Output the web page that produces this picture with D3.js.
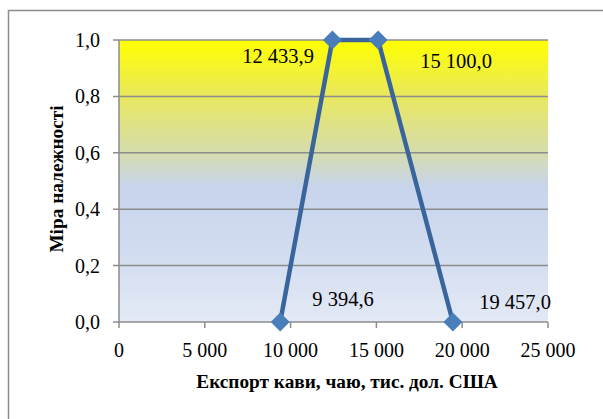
<!DOCTYPE html>
<html><head><meta charset="utf-8">
<script src="https://cdn.jsdelivr.net/npm/d3@7"></script>
</head><body style="margin:0;background:#fff">
<script>
const xValues = [9394.6, 12433.9, 15100.0, 19457.0];
const yValues = [0, 1, 1, 0];
const pointLabels = ["9 394,6", "12 433,9", "15 100,0", "19 457,0"];
const xTicks = [0, 5000, 10000, 15000, 20000, 25000];
const yTicks = [0, 0.2, 0.4, 0.6, 0.8, 1.0];
const xTitle = "Експорт кави, чаю, тис. дол. США";
const yTitle = "Міра належності";

const W = 603, H = 419;
const FF = '"Liberation Serif"';
const svg = d3.select("body").append("svg").attr("width", W).attr("height", H).style("display", "block");

svg.append("rect").attr("x", 8.5).attr("y", 10.5).attr("width", 700).attr("height", 500)
  .attr("fill", "#fff").attr("stroke", "#8c8c8c").attr("stroke-width", 1.5);

const L = 119, R = 548, T = 40, B = 322;
const x = d3.scaleLinear().domain([0, 25000]).range([L, R]);
const y = d3.scaleLinear().domain([0, 1]).range([B, T]);

const defs = svg.append("defs");
const g = defs.append("linearGradient").attr("id", "bg").attr("x1", 0).attr("y1", 0).attr("x2", 0).attr("y2", 1);
[[0, "#ffff00"], [0.2, "#e8e85e"], [0.4, "#d5dcae"], [0.52, "#c7d4ec"], [0.75, "#d2dcf0"], [1, "#e3e9f5"]]
  .forEach(([o, c]) => g.append("stop").attr("offset", o).attr("stop-color", c));

svg.append("rect").attr("x", L).attr("y", T).attr("width", R - L).attr("height", B - T).attr("fill", "url(#bg)");

svg.append("g").selectAll("line").data(yTicks).join("line")
  .attr("x1", L - 6).attr("x2", R).attr("y1", d => y(d)).attr("y2", d => y(d))
  .attr("stroke", "#8c8c8c").attr("stroke-width", 1.5);

svg.append("line").attr("x1", L).attr("x2", L).attr("y1", T).attr("y2", B).attr("stroke", "#8c8c8c").attr("stroke-width", 1.5);

svg.append("g").selectAll("line").data(xTicks).join("line")
  .attr("x1", d => x(d)).attr("x2", d => x(d)).attr("y1", B).attr("y2", B + 6)
  .attr("stroke", "#8c8c8c").attr("stroke-width", 1.5);

const fmtX = d => d3.format(",")(d).replace(/,/g, " ");
const fmtY = d => d.toFixed(1).replace(".", ",");

svg.append("g").selectAll("text").data(xTicks).join("text")
  .attr("x", d => x(d)).attr("y", B + 35).attr("text-anchor", "middle")
  .style("font-family", FF).style("font-size", "20px").attr("fill", "#000").text(fmtX);

svg.append("g").selectAll("text").data(yTicks).join("text")
  .attr("x", 100).attr("y", d => y(d) + 7).attr("text-anchor", "end")
  .style("font-family", FF).style("font-size", "20px").attr("fill", "#000").text(fmtY);

svg.append("text").attr("x", 347).attr("y", 388).attr("text-anchor", "middle")
  .style("font-family", FF).style("font-size", "19.3px").style("font-weight", "bold").text(xTitle);

svg.append("text").attr("transform", "translate(63,179) rotate(-90)").attr("text-anchor", "middle")
  .style("font-family", FF).style("font-size", "19.3px").style("font-weight", "bold").text(yTitle);

const pts = xValues.map((v, i) => [v, yValues[i]]);
svg.append("path").datum(pts)
  .attr("d", d3.line().x(d => x(d[0])).y(d => y(d[1])))
  .attr("fill", "none").attr("stroke", "#3a659c").attr("stroke-width", 4.5).attr("stroke-linejoin", "round");

svg.append("g").selectAll("path").data(pts).join("path")
  .attr("d", d3.symbol().type(d3.symbolSquare).size(180))
  .attr("transform", d => `translate(${x(d[0])},${y(d[1])}) rotate(45)`)
  .attr("fill", "#4a7ebb");

const labelPos = [[343, 306], [278, 63], [456, 68], [515, 309]];
svg.append("g").selectAll("text").data(pointLabels).join("text")
  .attr("x", (d, i) => labelPos[i][0]).attr("y", (d, i) => labelPos[i][1]).attr("text-anchor", "middle")
  .style("font-family", FF).style("font-size", "20.5px").attr("fill", "#000").text(d => d);
</script>
</body></html>
